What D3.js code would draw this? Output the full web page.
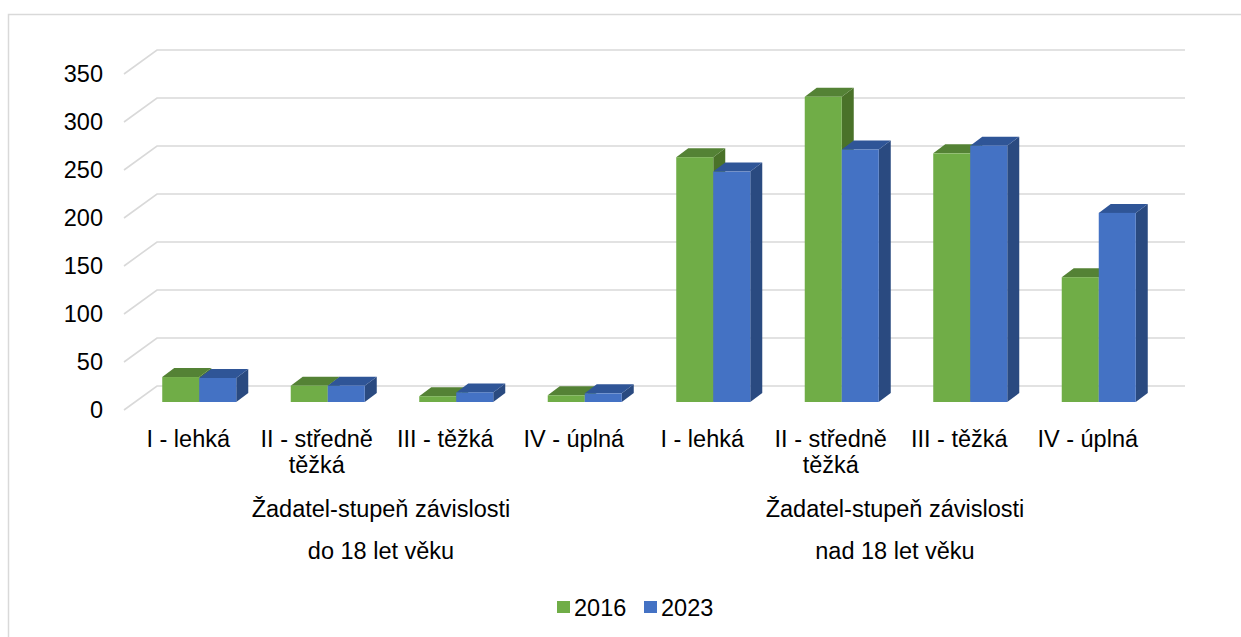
<!DOCTYPE html>
<html>
<head>
<meta charset="utf-8">
<script src="https://cdn.jsdelivr.net/npm/d3@7"></script>
<style>
  body { margin: 0; background: #fff; }
  text { font-family: "Liberation Sans", Arial, sans-serif; fill: #000; }
</style>
</head>
<body>
<div class="chart"></div>
<script>
const categories = ["I - lehká", "II - středně těžká", "III - těžká", "IV - úplná",
                    "I - lehká", "II - středně těžká", "III - těžká", "IV - úplná"];
const groupTitle = "Žadatel-stupeň závislosti";
const groupSubtitles = ["do 18 let věku", "nad 18 let věku"];
const seriesNames = ["2016", "2023"];
const values2016 = [26, 17, 6, 7, 255, 318, 259, 130];
const values2023 = [25, 17, 10, 9, 240, 263, 267, 197];
const yTicks = [0, 50, 100, 150, 200, 250, 300, 350];

const colors = {
  "2016": {front: "#70ad47", top: "#548235", side: "#4a7229"},
  "2023": {front: "#4472c4", top: "#2f5597", side: "#2a4a80"}
};

const width = 1241, height = 637;
const fontSize = '23.5px';
const back = {x0: 157, x1: 1185, y0: 386, y1: 50};
const depth = {dx: -33, dy: 24};      // back wall -> front plane
const barShift = {dx: -22, dy: 16};   // back wall -> bar front face
const barDepth = {dx: 12, dy: -9};

function wrapLabel(selection, maxWidth) {
  selection.each(function() {
    const node = d3.select(this);
    const x = node.attr('x');
    const words = node.text().split(' ');
    node.text('');
    let line = [];
    let tspan = node.append('tspan').attr('x', x).attr('dy', 0);
    words.forEach(w => {
      line.push(w);
      tspan.text(line.join(' '));
      if (tspan.node().getComputedTextLength() > maxWidth && line.length > 1) {
        line.pop();
        tspan.text(line.join(' '));
        line = [w];
        tspan = node.append('tspan').attr('x', x).attr('dy', 26).text(w);
      }
    });
  });
}

const svg = d3.select('.chart')
  .append('svg')
    .attr('width', width)
    .attr('height', height);

// chart border
svg.append('rect')
  .attr('x', 8.5).attr('y', 14.5)
  .attr('width', 1300).attr('height', 700)
  .attr('fill', 'none')
  .attr('stroke', '#d9d9d9')
  .attr('stroke-width', 1.5);

const y = d3.scaleLinear().domain([0, 350]).range([back.y0, back.y1]);
const x = d3.scaleBand().domain(d3.range(categories.length)).range([back.x0, back.x1]);
const bw = x.bandwidth();
const xs = d3.scaleBand().domain(seriesNames).range([0, bw * 0.576]);

// gridlines: back wall + left side wall
const grid = svg.append('g').attr('stroke', '#d9d9d9').attr('stroke-width', 1.6).attr('fill', 'none');
grid.selectAll('path')
  .data(yTicks)
  .enter()
  .append('path')
    .attr('d', d => `M${back.x0 + depth.dx},${y(d) + depth.dy}L${back.x0},${y(d)}L${back.x1},${y(d)}`);

// y labels
svg.append('g')
  .selectAll('text')
  .data(yTicks)
  .enter()
  .append('text')
    .attr('x', 103)
    .attr('y', d => y(d) + depth.dy)
    .attr('dy', '0.35em')
    .attr('text-anchor', 'end')
    .attr('font-size', fontSize)
    .text(d => d);

// bars
const bars = [];
categories.forEach((c, i) => {
  seriesNames.forEach((s, j) => {
    bars.push({i, s, v: (j === 0 ? values2016 : values2023)[i]});
  });
});

const barG = svg.append('g');
bars.forEach(b => {
  const fx = x(b.i) + (bw - xs.range()[1]) / 2 + xs(b.s) + barShift.dx;
  const fw = xs.bandwidth();
  const fy = y(b.v) + barShift.dy;
  const fb = y(0) + barShift.dy;
  const c = colors[b.s];
  const g = barG.append('g');
  g.append('path')
    .attr('d', `M${fx + fw},${fy}L${fx + fw + barDepth.dx},${fy + barDepth.dy}L${fx + fw + barDepth.dx},${fb + barDepth.dy}L${fx + fw},${fb}Z`)
    .attr('fill', c.side);
  g.append('path')
    .attr('d', `M${fx},${fy}L${fx + barDepth.dx},${fy + barDepth.dy}L${fx + fw + barDepth.dx},${fy + barDepth.dy}L${fx + fw},${fy}Z`)
    .attr('fill', c.top);
  g.append('rect')
    .attr('x', fx).attr('y', fy)
    .attr('width', fw).attr('height', fb - fy)
    .attr('fill', c.front);
});

// category labels
svg.append('g')
  .selectAll('text')
  .data(categories)
  .enter()
  .append('text')
    .attr('x', (d, i) => x(i) + bw / 2 + depth.dx)
    .attr('y', 447)
    .attr('text-anchor', 'middle')
    .attr('font-size', fontSize)
    .text(d => d)
    .call(wrapLabel, bw - 8);

// group labels
groupSubtitles.forEach((sub, k) => {
  const cx = (x(k * 4) + x(k * 4 + 3) + bw) / 2 + depth.dx;
  svg.append('text')
    .attr('x', cx).attr('y', 517)
    .attr('text-anchor', 'middle')
    .attr('font-size', fontSize)
    .text(groupTitle);
  svg.append('text')
    .attr('x', cx).attr('y', 559)
    .attr('text-anchor', 'middle')
    .attr('font-size', fontSize)
    .text(sub);
});

// legend
const legend = svg.append('g');
const legendX = [557, 644];
seriesNames.forEach((s, j) => {
  legend.append('rect')
    .attr('x', legendX[j]).attr('y', 601)
    .attr('width', 13).attr('height', 12)
    .attr('fill', colors[s].front);
  legend.append('text')
    .attr('x', legendX[j] + 17).attr('y', 616)
    .attr('font-size', fontSize)
    .text(s);
});
</script>
</body>
</html>
